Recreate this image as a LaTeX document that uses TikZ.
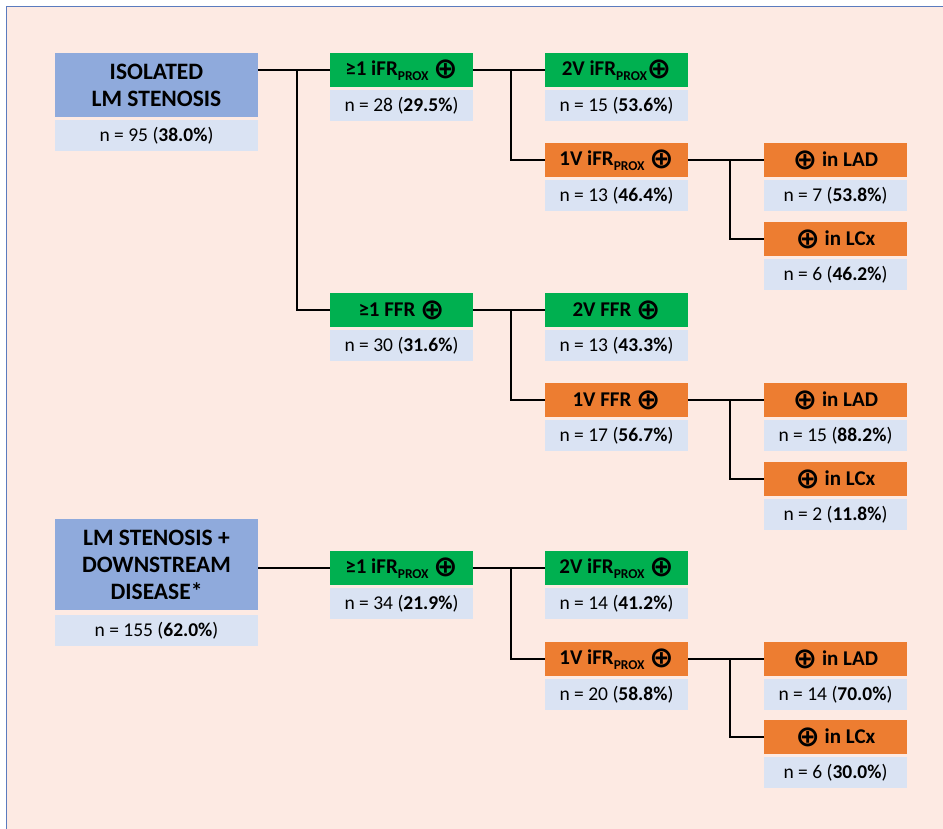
\documentclass[tikz,border=0pt]{standalone}
\usepackage{fontspec}
\setmainfont{Carlito}
\newfontfamily\symfont{DejaVu Sans}
\usepackage{tikz}
\usetikzlibrary{positioning, calc}

\definecolor{rootblue}{HTML}{8FAADC}
\definecolor{cellblue}{HTML}{DAE3F3}
\definecolor{posgreen}{HTML}{00B050}
\definecolor{posorange}{HTML}{ED7D31}
\definecolor{bgpeach}{HTML}{FDEAE3}
\definecolor{frameblue}{HTML}{5B7BBE}

\newcommand{\oplusmark}{\raisebox{-0.12em}{\fontsize{29}{24}\symfont\selectfont ⊕}}
\newcommand{\proxsub}{\raisebox{-0.22em}{\fontsize{13.5}{13}\selectfont PROX}}

\begin{document}
\begin{tikzpicture}[
                x=1pt, y=-1pt,
                node distance=3pt,
                box/.style={rectangle, inner sep=0pt, outer sep=0pt, align=center, anchor=north west},
                roothead/.style={box, fill=rootblue, minimum width=203pt, font=\fontsize{23.5}{27}\selectfont\bfseries},
                headbox/.style={box, minimum width=143pt, minimum height=34pt, font=\fontsize{21}{24}\selectfont\bfseries},
                greenhead/.style={headbox, fill=posgreen},
                orangehead/.style={headbox, fill=posorange},
                datacell/.style={box, fill=cellblue, minimum height=31pt, font=\fontsize{19.5}{23}\selectfont},
                link/.style={line width=2.7pt, line join=miter}
            ]
                % Frame and background
                \useasboundingbox (0,0) rectangle (943,829);
                \fill[bgpeach] (7,7) rectangle (943,829);
                \draw[frameblue, line width=1.4pt] (6.7,829) -- (6.7,6.7) -- (943,6.7);

                % Root groups
                \node[roothead, minimum height=64pt] (root1) at (55,53) {ISOLATED\\LM STENOSIS};
                \node[datacell, minimum width=203pt, below=of root1.south west, anchor=north west] (root1n) {n = 95 (\textbf{38.0\%})};
                \node[roothead, minimum height=91pt] (root2) at (55,519) {LM STENOSIS +\\DOWNSTREAM\\DISEASE*};
                \node[datacell, minimum width=203pt, below=5pt of root2.south west, anchor=north west] (root2n) {n = 155 (\textbf{62.0\%})};

                % iFR branch (isolated)
                \node[greenhead] (ia) at (330,53) {≥1 iFR\proxsub\ \oplusmark};
                \node[greenhead] (ib) at (545,53) {2V iFR\proxsub\oplusmark};
                \node[orangehead] (ic) at (545,143) {1V iFR\proxsub\ \oplusmark};
                \node[orangehead] (id) at (764,143) {\oplusmark\ in LAD};
                \node[orangehead] (ie) at (764,222) {\oplusmark\ in LCx};

                % FFR branch (isolated)
                \node[greenhead] (fa) at (330,293) {≥1 FFR \oplusmark};
                \node[greenhead] (fb) at (545,293) {2V FFR \oplusmark};
                \node[orangehead] (fc) at (545,383) {1V FFR \oplusmark};
                \node[orangehead] (fd) at (764,383) {\oplusmark\ in LAD};
                \node[orangehead] (fe) at (764,462) {\oplusmark\ in LCx};

                % iFR branch (downstream disease)
                \node[greenhead] (da) at (330,551) {≥1 iFR\proxsub\ \oplusmark};
                \node[greenhead] (db) at (545,551) {2V iFR\proxsub\ \oplusmark};
                \node[orangehead] (dc) at (545,642) {1V iFR\proxsub\ \oplusmark};
                \node[orangehead] (dd) at (764,642) {\oplusmark\ in LAD};
                \node[orangehead] (de) at (764,720) {\oplusmark\ in LCx};

                % Counts
                \foreach \n/\t in {ia/{28 (\textbf{29.5\%})}, ib/{15 (\textbf{53.6\%})}, ic/{13 (\textbf{46.4\%})},
                                   id/{7 (\textbf{53.8\%})}, ie/{6 (\textbf{46.2\%})},
                                   fa/{30 (\textbf{31.6\%})}, fb/{13 (\textbf{43.3\%})}, fc/{17 (\textbf{56.7\%})},
                                   fd/{15 (\textbf{88.2\%})}, fe/{2 (\textbf{11.8\%})},
                                   da/{34 (\textbf{21.9\%})}, db/{14 (\textbf{41.2\%})}, dc/{20 (\textbf{58.8\%})},
                                   dd/{14 (\textbf{70.0\%})}, de/{6 (\textbf{30.0\%})}}
                    \node[datacell, minimum width=143pt, below=of \n.south west, anchor=north west] (\n n) {n = \t};

                % Connectors
                \draw[link] (root1.east |- ia.west) -- (ia.west);
                \coordinate (trunk) at ($(ia.west)+(-33,0)$);
                \draw[link] (trunk) |- (fa.west);
                \draw[link] (root2.east |- da.west) -- (da.west);
                \foreach \a/\b/\c in {ia/ib/ic, ic/id/ie, fa/fb/fc, fc/fd/fe, da/db/dc, dc/dd/de} {
                    \draw[link] (\a.east) -- (\b.west);
                    \draw[link] ($(\b.west)+(-34,0)$) |- (\c.west);
                }
            \end{tikzpicture}
\end{document}
